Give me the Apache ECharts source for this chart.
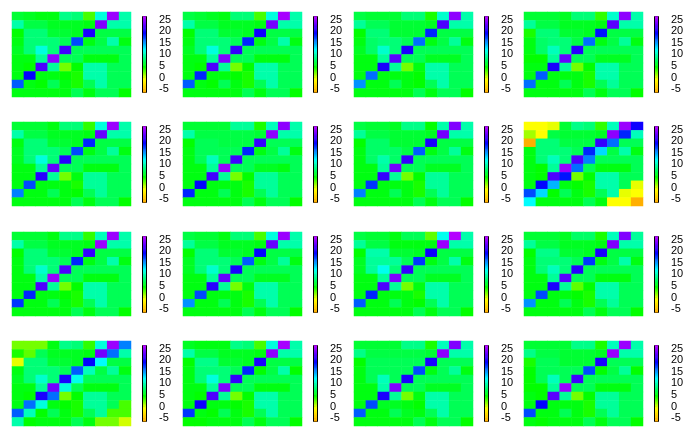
<!DOCTYPE html>
<html><head><meta charset="utf-8">
<style>html,body{margin:0;padding:0;background:#fff}#c{width:683px;height:439px}</style>
<script src="https://cdn.jsdelivr.net/npm/echarts@6/dist/echarts.min.js"></script>
</head><body><div id="c"></div>
<script>
const tickValues = [-5,0,5,10,15,20,25];
const scaleMin = -6.5, scaleMax = 26.4;
const hueAnchorValues = [-6.5,-1,4.5,12,19,26.4];
const hueAnchorHues = [40,60,120,180,240,285];
const panel01 = [
6,5.5,5,5,8.5,8,3,11,25,9.5,
9.5,6.5,6.5,5.5,5.5,5.5,5,24,9.5,9.5,
4.5,8,8,6,6,5.5,20,6.5,6.5,6.5,
5,8,8,8,7,17,5,6.5,9.5,5,
5.5,8,11,8,21.5,7,7,7,7,7,
5,5,9,24.5,7,7,5,5,5,7,
5,4.5,22,9,2,4.5,9.5,9.5,7,7,
5,19,5,5,4.5,4,9.5,9.5,7,7,
16.5,5,4.5,7,5,4,7,9.5,7,7,
5,5,5,5,5,7,5,7,7,4.5];
const panel02 = [
6.5,6,5.5,5,8,8,3,11,25.5,9.5,
9.5,6.5,6.5,5.5,5.5,5.5,5,23.5,9.5,9.5,
4.5,8,8,6,6,5.5,19.5,6.5,6.5,6.5,
5,8,8,8,7,18,5,6.5,9.5,5,
5.5,8,11,8,21,7,7,7,7,7,
5,5,9,24,7,7,5,5,5,7,
5,4.5,22,9,2,4.5,9.5,9.5,7,7,
5,18,5,5,4.5,4,9.5,9.5,7,7,
16.5,5,4.5,7,5,4,7,9.5,7,7,
5,5,5,5,5,7,5,7,7,4.5];
const panel03 = [
6.5,6,6,6,8,8,4,10.5,24.5,9.5,
9,7,7,6,6,6,5.5,22,9.5,9.5,
4.5,8,8,6,6,6,18,6.5,6.5,6.5,
5,7.5,8,8,7,16,5,6.5,9,5,
5.5,7.5,10.5,8,20,7,7,7,7,7,
5,5,9,22.5,7,7,5.5,5.5,5.5,7,
5,5,20,9,2,5,9.5,9.5,7,7,
5,16,5,5,5,4.5,9.5,9.5,7,7,
15,5,5,7,5,4.5,7,9.5,7,7,
5,5,5,5,5,7,5,7,7,4.5];
const panel04 = [
6,6,6,5.5,8,8,3.5,10.5,24.5,9.5,
9,6.5,6.5,5.5,5.5,5.5,5,22.5,9.5,9.5,
4,8,8,6,6,5.5,18.5,6.5,6.5,6.5,
5,7.5,8,8,6.5,16,5,6.5,9,5,
5,7.5,10,8,20.5,7,7,7,7,7,
4.5,4.5,9,23,7,7,5.5,5.5,5.5,7,
5,5,20,9,2,4.5,9.5,9.5,7,7,
5,16.5,5,5,5,4,9.5,9.5,7,7,
16,5,5,7,5,4,7,9,7,7,
5,5,5,5,5,7,5,7,7,4.5];
const panel05 = [
6,6,6,5,8,8,3.5,11,25,9.5,
9.5,6.5,6.5,5.5,5.5,5.5,5,23,9.5,9.5,
5,8,8,6,6,5.5,18,6.5,6.5,6.5,
5.5,8,8,8,7,17,5,6.5,9,5,
5.5,8,11,8,20.5,7,7,7,7,7,
5,5,9,23,7,7,5,5,5,7,
5,5,20.5,9,2,5,9,9,7,7,
5,17,5,5,5,4,9,9,7,7,
15.5,5,5,7,5,4.5,7,9,7,7,
5,5,5,5,5,7,5,7,7,4.5];
const panel06 = [
6,6,6,6,9,9,4,10,24.5,9.5,
9.5,6.5,6.5,6.5,6.5,6.5,6,24.5,9.5,9.5,
4.5,7,7,6.5,6.5,6.5,21,7,7,7,
5,7,7,7,7,18,5,6.5,9,5,
5,7,10,7,21.5,7,7,7,7,7,
5,5,9,25,7,7,5.5,5.5,5,7,
5,5,21.5,9,2,4.5,9,9,7,7,
5,19,5,5,5,4,9,9,7,7,
18,5,5,7,5,4,7,9,7,7,
5,5,5,5,5,7,5,7,7,4.5];
const panel07 = [
6.5,6,6,5.5,8.5,8.5,4.5,9.5,24,9.5,
9,6.5,6.5,6,6,6,5.5,23.5,9.5,9.5,
4.5,7.5,7.5,6,6,6,20,6.5,6.5,6.5,
5,7.5,7.5,7.5,6.5,16.5,5,6.5,9,5,
5,7.5,9.5,7.5,21,7,7,7,7,7,
5,5,9,23.5,7,7,5.5,5.5,5.5,7,
5,5,21,9,2,4.5,9,9,7,7,
5,17.5,5,5,5,4,9,9,7,7,
15.5,5,5,7,5,4,7,9,7,7,
5,5,5,5,5,7,5,7,7,4.5];
const panel08 = [
-1,-1,-0.5,6,8.5,8,3.5,10,25,19.5,
1,-1,6.5,6,6,6,5.5,24.5,18,10,
-6.2,8,8,6.5,6.5,6.5,21,16,7,7,
5,8,8,8,7,18,13,6.5,9.5,5,
5,8,10,8,22,15.5,7,7,7,7,
5,4.5,9,25,16,7,5,5,5,7,
5,4.5,22,18.5,2,4.5,9.5,9.5,7,7,
5,19,14,5,4.5,4,9.5,9.5,7,-0.5,
17,13,4.5,7,5,4,7,9.5,-0.5,-1,
12,5,5,5,5,7,5,-1,-1,-6.2];
const panel09 = [
6,6,6,5,8.5,8.5,3.5,10,25,9.5,
9.5,6.5,6.5,5.5,5.5,5.5,5,25,9.5,9.5,
4.5,8,8,6,6,5.5,21,6.5,6.5,6.5,
5,8,8,8,7,18,5,6.5,9.5,5,
5,8,10.5,8,22,7,7,7,7,7,
5,5,9.5,25,7,7,5,5,5,7,
5,5,22,9,2,4.5,9.5,9.5,7,7,
5,18,5,5,4.5,4,9.5,9.5,7,7,
17.5,5,5,7,5,4,7,9.5,7,7,
5,5,5,5,5,7,5,7,7,4.5];
const panel10 = [
6.5,6,6,5,8,8,3,11,25,9.5,
9,6.5,6.5,5.5,5.5,5.5,5,23,9.5,9.5,
4.5,8,8,6,6,5.5,19,6.5,6.5,6.5,
5.5,8,8,8,7,16.5,5,6.5,9,5,
5.5,8,10.5,8,20,7,7,7,7,7,
5,5,9,23,7,7,5.5,5.5,5.5,7,
5,5,20.5,9,2,5,9.5,9.5,7,7,
5,17,5,5,5,4,9.5,9.5,7,7,
15,5,5,7,5,4,7,9.5,7,7,
5,5,5,5,5,7,5,7,7,4.5];
const panel11 = [
6.5,6,6,5,7,7,2.5,11.5,26,9.5,
9,6.5,6.5,5,5,5,5,25,9.5,9.5,
4.5,9.5,9.5,6,6,5.5,19.5,6.5,6.5,6.5,
5.5,9,9,9,7,17.5,5,6.5,9.5,5,
5.5,9,11.5,8,21,7,7,7,7,7,
5,5,9,24,7,7,5.5,5.5,5.5,7,
5,5,22,9,2,5,9.5,9.5,7,7,
5,18,5,5,5,4,9.5,9.5,7,7,
16.5,5,5,7,5,4.5,7,9.5,7,7,
5,5,5,5,5,7,5,7,7,4.5];
const panel12 = [
6,6,6,5.5,7.5,7.5,4,10,24,9,
9,6.5,6.5,5.5,5.5,5.5,5,24,9.5,9.5,
4.5,8.5,8.5,6,6,5.5,20,6.5,6.5,6.5,
5,8,8,8,7,17.5,5,6.5,9.5,5,
5,8,10,8,20.5,7,7,7,7,7,
5,5,9,22.5,7,7,5,5,5,7,
5,5,20,9,2.5,4.5,9.5,9.5,7,7,
5,17,5,5,4.5,4,9.5,9.5,7,7,
15,5,5,7,5,4,7,9,7,7,
5,5,5,5,5,7,5,7,7,4.5];
const panel13 = [
2,2,2,5,8.5,8,3.5,11,25,15.5,
4,2.5,7,5.5,5.5,5.5,5,23.5,16,9.5,
-0.5,8,8,6,6,5.5,19,12,6.5,6.5,
5,8,8,8,7,16.5,10,6.5,9,5,
5.5,8,10.5,8,20,11.5,7,7,7,7,
5,5,9,23.5,11,7,5,5,5,7,
5,4.5,20,16,2,4.5,9,9,7,7,
5,16,11,5,4.5,4,9,9,7,3,
16.5,10,4.5,7,5,4,7,9,3,3,
9.5,4.5,5,5,5,7,5,2,2,0];
const panel14 = [
5.5,5,5,5,8.5,8,3,11,25.5,9.5,
9.5,6.5,6.5,5.5,5.5,5.5,5,24.5,9.5,9.5,
4.5,8.5,8.5,6,6,5.5,20,6.5,6.5,6.5,
5,8,8,8,7,18,4.5,6.5,9.5,4.5,
5,8,11,8,21,7,7,7,7,7,
5,5,9,24,7,7,5,5,5,7,
5,4.5,22,9,2,4.5,9.5,9.5,7,7,
5,19.5,5,5,4.5,4,9.5,9.5,7,7,
17.5,5,4.5,7,5,4,7,9.5,7,7,
4.5,4.5,5,5,5,7,5,7,7,4.5];
const panel15 = [
6,6,6,6,8.5,8.5,4,10,24,9.5,
8.5,6.5,6.5,6.5,6.5,6.5,6,24.5,9.5,9.5,
4.5,7,7,7,7,7,20,7,7,7,
5,7,7,7,7,17,5,7,9,5,
5,7,10,7,20,7,7,7,7,7,
5,5,9.5,24,7,7,5.5,5.5,5.5,7,
5,5,20,9,2,5,9.5,9.5,7,7,
5,17,5.5,5.5,5,4.5,9.5,9.5,7,7,
16.5,5,5,7,5.5,5,7,9.5,7,7,
5,5,5,5,5,7,5,7,7,4.5];
const panel16 = [
6,6,6,6,8.5,8.5,4,10,25,9.5,
8.5,6.5,6.5,6,6,6,5.5,25,9.5,9.5,
4,7,7,6,6,6,20,7,7,7,
4.5,7,7,7,7,17,4.5,6.5,9,4.5,
4.5,7,10,7,21.5,7,7,7,7,7,
4.5,4.5,9,25,7,7,5,5,5,7,
5,4.5,22.5,9,2,4.5,9,9,7,7,
5,19,5,5,5,4,9,9,7,7,
17,5,5,7,5,4,7,9,7,7,
5,4.5,5,5,5,7,5,7,7,4.5];
const panels = [panel01,panel02,panel03,panel04,panel05,panel06,panel07,panel08,panel09,panel10,panel11,panel12,panel13,panel14,panel15,panel16];

function hueFor(v){
  for(let i=0;i<hueAnchorValues.length-1;i++){
    if(v<=hueAnchorValues[i+1]){
      const t=(v-hueAnchorValues[i])/(hueAnchorValues[i+1]-hueAnchorValues[i]);
      return hueAnchorHues[i]+t*(hueAnchorHues[i+1]-hueAnchorHues[i]);
    }
  }
  return hueAnchorHues[hueAnchorHues.length-1];
}
const stops=[];
for(let i=0;i<=66;i++){stops.push('hsl('+hueFor(scaleMin+(scaleMax-scaleMin)*i/66).toFixed(1)+',100%,50%)');}
const barLevels=[];
for(let v=-6.4;v<26.3;v+=0.4){barLevels.push(+v.toFixed(1));}
const barStep=0.4;

const cols=10,rows=10;
const colLeft=[12,183,354,524], rowTop=[12,122,232,341], rowHeight=[85,84,84,85], barTop=[16,126,236,345];
const grid=[],xAxis=[],yAxis=[],series=[];
const heatIdx=[],barIdx=[];
const cats=[...Array(10).keys()];
panels.forEach((p,i)=>{
  const L=colLeft[i%4],r=Math.floor(i/4),T=rowTop[r];
  const g1=grid.length;
  grid.push({left:L,top:T,width:119,height:rowHeight[r],outerBoundsMode:'none'});
  xAxis.push({gridIndex:g1,type:'category',data:cats,show:false});
  yAxis.push({gridIndex:g1,type:'category',data:cats,inverse:true,show:false});
  heatIdx.push(series.length);
  series.push({type:'heatmap',xAxisIndex:g1,yAxisIndex:g1,progressive:0,
    data:p.map((v,k)=>[k%cols,Math.floor(k/rows),v])});
  const g2=grid.length;
  grid.push({left:L+130.5,top:barTop[r]+0.5,width:4,height:76,show:true,borderColor:'#000',borderWidth:1,backgroundColor:'transparent',outerBoundsMode:'none'});
  xAxis.push({gridIndex:g2,type:'value',min:0,max:1,show:false});
  yAxis.push({gridIndex:g2,type:'value',position:'right',min:scaleMin,max:scaleMax,
    axisLine:{show:false},splitLine:{show:false},
    axisTick:{show:true,length:2,lineStyle:{color:'#000',width:1},customValues:tickValues},
    axisLabel:{show:true,margin:12.5,padding:[2,0,0,0],color:'#000',fontFamily:'Liberation Sans',fontSize:11,customValues:tickValues,showMinLabel:true,showMaxLabel:true}});
  barIdx.push(series.length);
  series.push({type:'custom',xAxisIndex:g2,yAxisIndex:g2,silent:true,clip:false,
    data:barLevels.map(v=>[0.5,v]),
    encode:{x:0,y:1},
    renderItem:function(params,api){
      const v=api.value(1);
      const a=api.coord([0,v]),b=api.coord([1,v+barStep]);
      return {type:'rect',shape:{x:a[0]+0.5,y:b[1]-0.3,width:b[0]-a[0]-1,height:a[1]-b[1]+0.6},style:{fill:api.visual('color')}};
    }});
});
const chart=echarts.init(document.getElementById('c'),null,{renderer:'canvas'});
chart.setOption({
  animation:false,backgroundColor:'#fff',
  grid,xAxis,yAxis,series,
  visualMap:[
    {show:false,type:'continuous',seriesIndex:heatIdx,dimension:2,min:scaleMin,max:scaleMax,inRange:{color:stops}},
    {show:false,type:'continuous',seriesIndex:barIdx,dimension:1,min:scaleMin,max:scaleMax,inRange:{color:stops}}
  ]
});
</script></body></html>
